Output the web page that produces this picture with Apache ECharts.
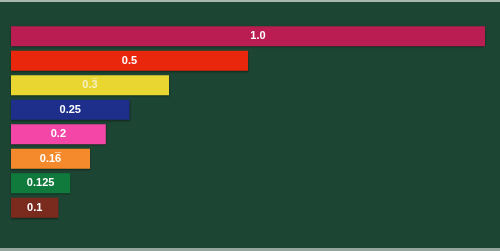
<!DOCTYPE html>
<html>
<head>
<meta charset="utf-8">
<script src="https://cdn.jsdelivr.net/npm/echarts@6/dist/echarts.min.js"></script>
<style>
  html, body { margin: 0; padding: 0; background: #1d4433; }
  #frame { width: 500px; height: 251px; box-sizing: border-box;
           border-top: 2px solid #a7b8b0; border-bottom: 3px solid #93a59c;
           background: #1d4534; position: relative; }
  #chart { position: absolute; left: 0; top: 0; width: 500px; height: 246px; }
</style>
</head>
<body>
<div id="frame"><div id="chart"></div></div>
<script>
// Unit fractions laid out as strips, longest on top.
// Repeating decimals: fixed part + the digit that repeats (drawn with a bar over it).
const labels = ['1.0', '0.5', '0.3', '0.25', '0.2', '0.16', '0.125', '0.1'];
const repeatPrefix = [null, null, '0.', null, null, '0.1', null, null];
const values = [1, 1 / 2, 1 / 3, 1 / 4, 1 / 5, 1 / 6, 1 / 8, 1 / 10];
const colors = ['#b91d52', '#e9270d', '#e9d631', '#1d2f8b', '#f446a6', '#f48a2b', '#0f7a3b', '#7b2b1d'];
const labelColors = ['#ffffff', '#ffffff', '#f6f0c6', '#ffffff', '#ffffff', '#ffffff', '#ffffff', '#ffffff'];

const FONT = '"Liberation Sans", Arial, sans-serif';

function labelFor(i) {
  const base = { color: labelColors[i] };
  if (i === 0) base.offset = [10, 0];
  if (repeatPrefix[i] !== null) {
    base.formatter = '{h|' + repeatPrefix[i] + '}{o|_}\n{n|' + labels[i] + '}';
    base.offset = [0, -5.5];
    base.rich = {
      h: { color: 'transparent', fontFamily: FONT, fontWeight: 'bold', fontSize: 11, lineHeight: 11 },
      o: { color: labelColors[i], fontFamily: FONT, fontWeight: 'bold', fontSize: 11, lineHeight: 11 },
      n: { color: labelColors[i], fontFamily: FONT, fontWeight: 'bold', fontSize: 11, lineHeight: 11 }
    };
  }
  return base;
}

const chart = echarts.init(document.getElementById('chart'));
chart.setOption({
  animation: false,
  grid: { left: 11, right: 15, top: 22, bottom: 28 },
  xAxis: { type: 'value', min: 0, max: 1, show: false },
  yAxis: { type: 'category', data: labels, inverse: true, show: false },
  series: [{
    type: 'bar',
    barWidth: 20,
    data: values.map((v, i) => ({ value: v, itemStyle: { color: colors[i] }, label: labelFor(i) })),
    itemStyle: { shadowColor: 'rgba(0,0,0,0.45)', shadowBlur: 2, shadowOffsetY: 1 },
    label: {
      show: true,
      position: 'inside',
      formatter: p => labels[p.dataIndex],
      color: '#ffffff',
      fontFamily: FONT,
      fontWeight: 'bold',
      fontSize: 11
    }
  }]
});
</script>
</body>
</html>
